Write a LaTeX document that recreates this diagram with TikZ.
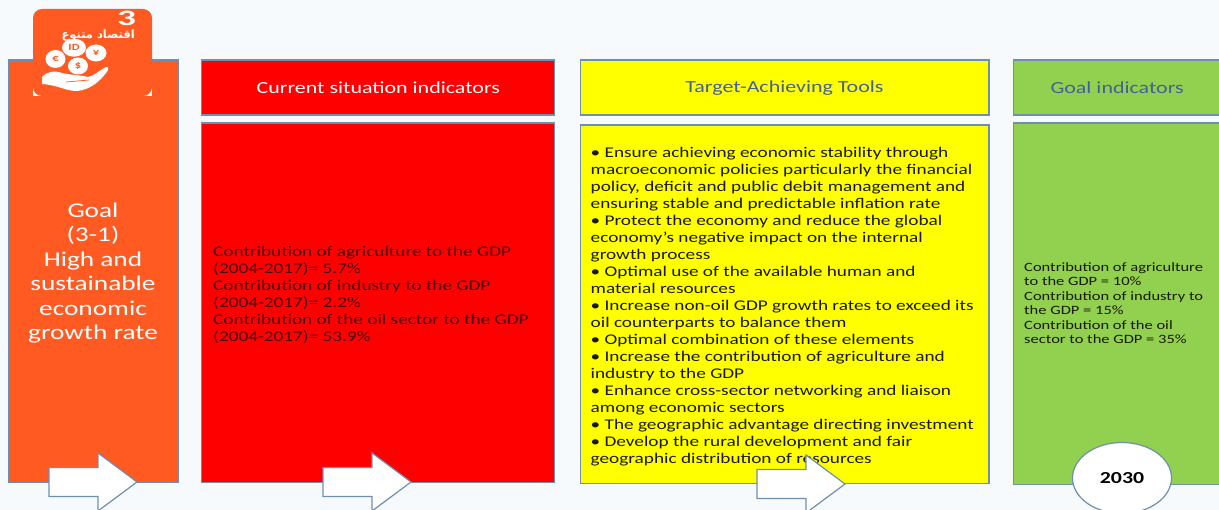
\documentclass[tikz,border=0pt]{standalone}
\usepackage{fontspec}
\setmainfont[FakeStretch=1.3]{Carlito}
\newfontfamily\arabicfont[Script=Arabic]{DejaVu Sans}
\TeXXeTstate=1
\usetikzlibrary{shapes.arrows,shapes.geometric}
\definecolor{pagebg}{HTML}{F6FAFD}
\definecolor{edge}{HTML}{6E8FB0}
\definecolor{orangeb}{HTML}{FF5A21}
\definecolor{greenb}{HTML}{92D050}
\definecolor{headblue}{HTML}{44609A}
\definecolor{redb}{HTML}{FF0000}
\definecolor{yellowb}{HTML}{FFFF00}
\definecolor{redtext}{HTML}{4A0000}
\definecolor{bodytext}{HTML}{1A1A00}
\tikzset{
 panel/.style={draw=edge,line width=1.2pt,anchor=north west,inner sep=0pt},
 body/.style={anchor=north west,align=left,inner sep=0pt,text=bodytext},
 bigarrow/.style={draw=edge,fill=white,line width=1.2pt,line join=miter},
 headtext/.style={font=\fontsize{16.9}{18}\selectfont,anchor=center},
}
\newcommand{\panelbox}[6]{\node[panel,fill=#6,minimum width=#4pt,minimum height=#5pt] (#1) at (#2,#3) {};}
\newcommand{\fatarrow}[3]{\draw[bigarrow] (#2,#3) ++(0,-14.5) -- ++(49,0) -- ++(0,-14.5) -- ++(39,29) -- ++(-39,29) -- ++(0,-14.5) -- ++(-49,0) -- cycle;}
\begin{document}
\begin{tikzpicture}[x=1pt,y=-1pt]
\path[use as bounding box,fill=pagebg] (0,0) rectangle (1219,510);
% panels
\panelbox{goal}{7.9}{59.5}{169.8}{422.5}{orangeb}
\panelbox{curhead}{201.2}{59.5}{353}{55}{redb}
\panelbox{curbody}{201.2}{122.5}{353}{359.5}{redb}
\panelbox{toolhead}{579.5}{59.5}{408.8}{55}{yellowb}
\panelbox{toolbody}{579.5}{124.5}{408.8}{358.5}{yellowb}
\panelbox{goalhead}{1013}{59.5}{207}{55}{greenb}
\panelbox{goalbody}{1013}{122.5}{207}{361.5}{greenb}
% header text
\node[headtext,text=white] (curt) at (curhead.center) {Current situation indicators};
\node[headtext,text=headblue] (toolt) at (toolhead.center) {Target-Achieving Tools};
\node[headtext,text=headblue] (goalt) at (goalhead.center) {Goal indicators};
% goal text
\node[text=white,align=center,font=\fontsize{21}{24.4}\selectfont] (goaltext) at (93,273) {Goal\\(3-1)\\High and\\sustainable\\economic\\growth rate};
% current body
\node[body,text=redtext,font=\fontsize{14.8}{17}\selectfont] (curtext) at (213,246) {Contribution of agriculture to the GDP\\(2004-2017)= 5.7\%\\Contribution of industry to the GDP\\(2004-2017)= 2.2\%\\Contribution of the oil sector to the GDP\\(2004-2017)= 53.9\%};
% tools body
\node[body,font=\fontsize{14.8}{16.98}\selectfont] (tooltext) at (590.5,147) {• Ensure achieving economic stability through\\macroeconomic policies particularly the financial\\policy, deficit and public debit management and\\ensuring stable and predictable inflation rate\\• Protect the economy and reduce the global\\economy’s negative impact on the internal\\growth process\\• Optimal use of the available human and\\material resources\\• Increase non-oil GDP growth rates to exceed its\\oil counterparts to balance them\\• Optimal combination of these elements\\• Increase the contribution of agriculture and\\industry to the GDP\\• Enhance cross-sector networking and liaison\\among economic sectors\\• The geographic advantage directing investment\\• Develop the rural development and fair\\geographic distribution of resources};
% goal indicators
\node[body,font=\fontsize{12.7}{14.4}\selectfont] (goalind) at (1024,262.5) {Contribution of agriculture\\to the GDP = 10\%\\Contribution of industry to\\the GDP = 15\%\\Contribution of the oil\\sector to the GDP = 35\%};
% arrows
\fatarrow{a1}{49}{482}
\fatarrow{a2}{323}{482}
\fatarrow{a3}{757}{484}
% 2030
\node[draw=edge,fill=white,line width=1.2pt,ellipse,minimum width=99pt,minimum height=71pt,inner sep=0pt,font=\bfseries\fontsize{16.8}{18}\selectfont] (yr) at (1122,478) {2030};
% SDG icon
\path[fill=white] (33,60) rectangle (152,96);
\path[fill=orangeb,rounded corners=9pt] (33,9) rectangle (152,96);
\node[text=white,font=\bfseries\fontsize{22}{22}\selectfont,anchor=center,inner sep=0pt,xscale=1.3] (three) at (126.5,18.5) {3};
\node[text=white,font=\arabicfont\bfseries\fontsize{11.5}{12}\selectfont,anchor=east,inner sep=0pt] (ar) at (135,36) {\beginR اقتصاد متنوع\endR};
\foreach \n/\xx/\yy/\rx/\ry/\t in {c1/55.5/59/10/9/€,c2/74/47.7/12/9/ID,c3/96/53/10.5/8.5/¥,c4/78/66/10/8.5/\$}{
  \node[draw=none,fill=white,ellipse,minimum width=2*\rx pt,minimum height=2*\ry pt,inner sep=0pt,text=orangeb,font=\bfseries\fontsize{9.5}{9.5}\selectfont] (\n) at (\xx,\yy) {\t};
}
\path[fill=white] (42,77) .. controls (46,72) and (54,70) .. (62,73) .. controls (70,75) and (80,75) .. (88,77) .. controls (94,76) and (100,70) .. (106,67) .. controls (109,66) and (109,70) .. (106,73) .. controls (100,81) and (90,90) .. (77,91) .. controls (65,91) and (58,85) .. (42,84) -- cycle;
\draw[orangeb,line width=0.7pt] (66,82) -- (89,80);
\end{tikzpicture}
\end{document}
